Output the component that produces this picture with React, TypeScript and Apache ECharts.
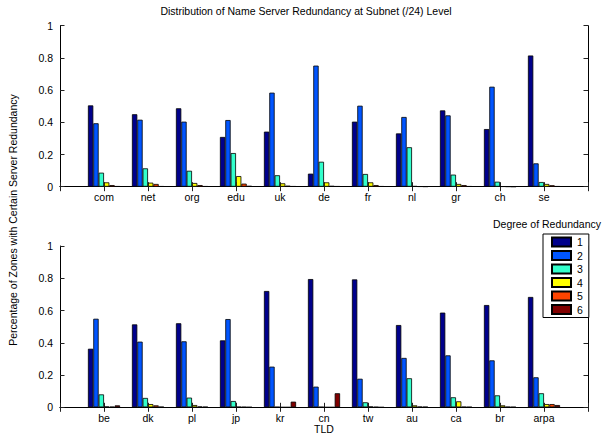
import React, { useEffect, useRef } from "react";
import * as echarts from "echarts";

const topTLDs = ["com", "net", "org", "edu", "uk", "de", "fr", "nl", "gr", "ch", "se"];
const bottomTLDs = ["be", "dk", "pl", "jp", "kr", "cn", "tw", "au", "ca", "br", "arpa"];

// Top panel: share of zones per degree of redundancy (1..6)
const topDeg1 = [0.505, 0.45, 0.487, 0.309, 0.342, 0.081, 0.404, 0.331, 0.474, 0.358, 0.815];
const topDeg2 = [0.394, 0.416, 0.404, 0.414, 0.584, 0.752, 0.503, 0.433, 0.443, 0.621, 0.145];
const topDeg3 = [0.087, 0.114, 0.099, 0.209, 0.071, 0.155, 0.079, 0.245, 0.075, 0.031, 0.029];
const topDeg4 = [0.027, 0.025, 0.023, 0.066, 0.021, 0.027, 0.027, 0.004, 0.017, 0.002, 0.017];
const topDeg5 = [0.01, 0.017, 0.01, 0.019, 0.006, 0.005, 0.01, 0.002, 0.01, 0.001, 0.009];
const topDeg6 = [0.003, 0.003, 0.003, 0.005, 0.003, 0.003, 0.003, 0.001, 0.003, 0.0, 0.003];

// Bottom panel
const botDeg1 = [0.363, 0.514, 0.521, 0.415, 0.721, 0.795, 0.793, 0.51, 0.587, 0.634, 0.684];
const botDeg2 = [0.549, 0.407, 0.409, 0.547, 0.252, 0.128, 0.177, 0.306, 0.322, 0.291, 0.186];
const botDeg3 = [0.08, 0.058, 0.06, 0.039, 0.002, 0.002, 0.031, 0.18, 0.062, 0.074, 0.087];
const botDeg4 = [0.005, 0.02, 0.014, 0.003, 0.0, 0.0, 0.005, 0.012, 0.037, 0.012, 0.02];
const botDeg5 = [0.003, 0.012, 0.005, 0.002, 0.0, 0.0, 0.002, 0.004, 0.003, 0.003, 0.02];
const botDeg6 = [0.012, 0.003, 0.003, 0.001, 0.035, 0.087, 0.0, 0.003, 0.002, 0.002, 0.014];

const degreeNames = ["1", "2", "3", "4", "5", "6"];
const degreeColors = ["#00008B", "#0055FF", "#33FFCC", "#FFFF00", "#FF4400", "#800000"];

const yTicks = [0, 0.2, 0.4, 0.6, 0.8, 1];

const FONT = "'Liberation Sans', Arial, Helvetica, sans-serif";

export default function App() {
  const ref = useRef<HTMLDivElement>(null);

  useEffect(() => {
    if (!ref.current) return;
    const chart = echarts.init(ref.current, undefined, { renderer: "svg" });

    const pad = (arr: (string | number)[], fill: any) => [fill, ...arr, fill];
    const topCats = pad(topTLDs, "");
    const botCats = pad(bottomTLDs, "");

    const topData = [topDeg1, topDeg2, topDeg3, topDeg4, topDeg5, topDeg6];
    const botData = [botDeg1, botDeg2, botDeg3, botDeg4, botDeg5, botDeg6];

    const grids = [
      { left: 60, top: 25.7, width: 528, height: 161 },
      { left: 60, top: 246, width: 528, height: 161.3 },
    ];

    const tickStyle = { show: true, inside: true, length: 4.5, lineStyle: { color: "#222", width: 1 } };
    const lineStyle = { show: true, lineStyle: { color: "#000", width: 1 } };

    const xAxes: any[] = [];
    const yAxes: any[] = [];
    [topCats, botCats].forEach((cats, gi) => {
      xAxes.push({
        type: "category",
        gridIndex: gi,
        data: cats,
        boundaryGap: false,
        position: "bottom",
        axisLine: lineStyle,
        axisTick: { ...tickStyle, interval: 0 },
        axisLabel: { show: true, interval: 0, color: "#000", fontSize: 10.5, fontFamily: FONT, margin: 5 },
        splitLine: { show: false },
      });
      xAxes.push({
        type: "category",
        gridIndex: gi,
        data: cats,
        boundaryGap: false,
        position: "top",
        axisLine: lineStyle,
        axisTick: { ...tickStyle, interval: 0 },
        axisLabel: { show: false },
        splitLine: { show: false },
      });
      yAxes.push({
        type: "value",
        gridIndex: gi,
        min: 0,
        max: 1,
        interval: 0.2,
        position: "left",
        axisLine: lineStyle,
        axisTick: tickStyle,
        axisLabel: {
          color: "#000",
          fontSize: 10.5,
          fontFamily: FONT,
          margin: 7,
          formatter: (v: number) => {
            const t = yTicks.find((k) => Math.abs(k - v) < 1e-6);
            return t === undefined ? "" : String(t);
          },
        },
        splitLine: { show: false },
      });
      yAxes.push({
        type: "value",
        gridIndex: gi,
        min: 0,
        max: 1,
        interval: 0.2,
        position: "right",
        axisLine: lineStyle,
        axisTick: tickStyle,
        axisLabel: { show: false },
        splitLine: { show: false },
      });
    });

    const series: any[] = [];
    [topData, botData].forEach((data, gi) => {
      data.forEach((vals, di) => {
        series.push({
          type: "bar",
          name: degreeNames[di],
          xAxisIndex: gi * 2,
          yAxisIndex: gi * 2,
          data: pad(vals, "-"),
          barGap: "0%",
          barCategoryGap: "27%",
          itemStyle: { color: degreeColors[di], borderColor: "#000", borderWidth: 0.8 },
        });
      });
    });

    chart.setOption({
      animation: false,
      backgroundColor: "#fff",
      textStyle: { fontFamily: FONT },
      grid: grids,
      xAxis: xAxes,
      yAxis: yAxes,
      series,
      legend: {
        show: true,
        data: degreeNames,
        orient: "vertical",
        left: 543,
        top: 234,
        width: 48,
        padding: [2.5, 6, 2.5, 8],
        itemWidth: 19,
        itemHeight: 9,
        itemGap: 2.5,
        icon: "rect",
        backgroundColor: "#fff",
        borderColor: "#000",
        borderWidth: 1,
        borderRadius: 0,
        textStyle: { color: "#000", fontSize: 10.5, fontFamily: FONT, lineHeight: 10, padding: [0, 0, 0, 1] },
        selectedMode: false,
      },
      graphic: [
        {
          type: "text",
          left: "center",
          x: 0,
          style: {
            text: "Distribution of Name Server Redundancy at Subnet (/24) Level",
            fontSize: 10.5,
            fontFamily: FONT,
            fill: "#000",
            x: 324,
            y: 11,
            align: "center",
            verticalAlign: "middle",
          },
        },
        {
          type: "text",
          style: {
            text: "Degree of Redundancy",
            fontSize: 10.5,
            fontFamily: FONT,
            fill: "#000",
            x: 547,
            y: 224,
            align: "center",
            verticalAlign: "middle",
          },
        },
        {
          type: "text",
          style: {
            text: "TLD",
            fontSize: 10.5,
            fontFamily: FONT,
            fill: "#000",
            x: 324,
            y: 429,
            align: "center",
            verticalAlign: "middle",
          },
        },
        {
          type: "text",
          x: 13,
          y: 220,
          rotation: Math.PI / 2,
          style: {
            text: "Percentage of Zones with Certain Server Redundancy",
            fontSize: 10.5,
            fontFamily: FONT,
            fill: "#000",
            x: 0,
            y: 0,
            align: "center",
            verticalAlign: "middle",
          },
        },
      ],
    });

    return () => chart.dispose();
  }, []);

  return <div ref={ref} style={{ width: 612, height: 437, position: "absolute", left: 0, top: 0 }} />;
}
